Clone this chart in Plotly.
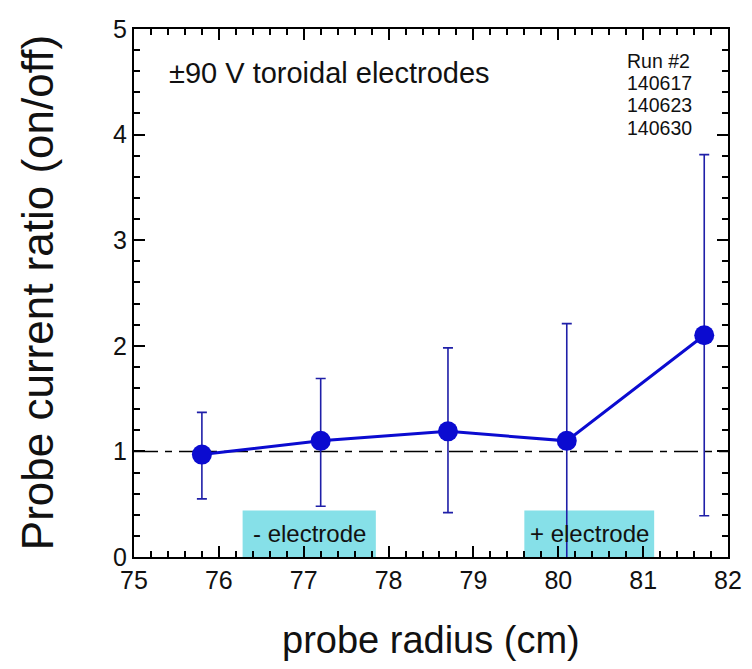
import plotly.graph_objects as go

# Data
radius_cm = [75.8, 77.2, 78.7, 80.1, 81.72]
current_ratio = [0.97, 1.10, 1.19, 1.10, 2.10]
err_upper = [1.37, 1.69, 1.98, 2.21, 3.81]
err_lower = [0.55, 0.48, 0.42, -0.3, 0.39]

ref_level = 1.0

electrode_labels = ["- electrode", "+ electrode"]
electrode_x0 = [76.28, 79.6]
electrode_x1 = [77.85, 81.13]
electrode_top = 0.44

run_lines = ["Run #2", "140617", "140623", "140630"]
title_text = "±90 V toroidal electrodes"
x_title = "probe radius (cm)"
y_title = "Probe current ratio (on/off)"

FONT = "Liberation Sans, Arial, Helvetica, sans-serif"
TXT = "#111111"

err_plus = [u - v for u, v in zip(err_upper, current_ratio)]
err_minus = [v - l for v, l in zip(current_ratio, err_lower)]

fig = go.Figure()

fig.add_trace(go.Scatter(
    x=radius_cm, y=current_ratio,
    mode="lines+markers",
    line=dict(color="#0b0bd0", width=3),
    marker=dict(color="#0b0bd0", size=20),
    error_y=dict(type="data", symmetric=False, array=err_plus, arrayminus=err_minus,
                 color="#1f1fa8", thickness=1.6, width=5),
    showlegend=False,
))

shapes = []
annotations = []
for lab, x0, x1 in zip(electrode_labels, electrode_x0, electrode_x1):
    shapes.append(dict(type="rect", xref="x", yref="y", x0=x0, x1=x1, y0=0, y1=electrode_top,
                       fillcolor="#86e0e8", line=dict(width=0), layer="below"))
    annotations.append(dict(x=(x0 + x1) / 2, y=electrode_top / 2, xref="x", yref="y",
                            text=lab, showarrow=False,
                            font=dict(family=FONT, size=24, color=TXT)))

shapes.append(dict(type="line", xref="paper", yref="y", x0=0, x1=1, y0=ref_level, y1=ref_level,
                   line=dict(color="black", width=1.5, dash="24px,7px,7px,7px"), layer="below"))

annotations.append(dict(x=0.055, y=4.58, xref="paper", yref="y", text=title_text,
                        showarrow=False, xanchor="left", yanchor="middle",
                        font=dict(family=FONT, size=29, color=TXT)))
for i, t in enumerate(run_lines):
    annotations.append(dict(x=0.826, y=4.70 - i * 0.211, xref="paper", yref="y", text=t,
                            showarrow=False, xanchor="left", yanchor="middle",
                            font=dict(family=FONT, size=19.5, color=TXT)))

annotations.append(dict(x=0.5, y=-0.157, xref="paper", yref="paper", text=x_title,
                        showarrow=False, xanchor="center", yanchor="middle",
                        font=dict(family=FONT, size=38, color=TXT)))
annotations.append(dict(x=-0.163, y=0.5, xref="paper", yref="paper", text=y_title,
                        showarrow=False, xanchor="center", yanchor="middle", textangle=-90,
                        font=dict(family=FONT, size=44, color=TXT)))

axis_common = dict(
    showline=True, linecolor="black", linewidth=2, mirror="ticks",
    ticks="inside", ticklen=11, tickwidth=1.5, tickcolor="black",
    showgrid=False, zeroline=False, automargin=False,
    dtick=1,
    tickfont=dict(family=FONT, size=25, color=TXT),
    minor=dict(ticks="inside", ticklen=6, dtick=0.2, tickwidth=1.5, tickcolor="black"),
)

fig.update_layout(
    width=752, height=669,
    margin=dict(l=134, r=24, t=29, b=112),
    paper_bgcolor="white", plot_bgcolor="white",
    shapes=shapes, annotations=annotations,
    xaxis=dict(range=[75, 82], **axis_common),
    yaxis=dict(range=[0, 5], **axis_common),
)

fig.write_html("out.html", config={"displayModeBar": False},
               post_script="document.body.style.margin='0';")
